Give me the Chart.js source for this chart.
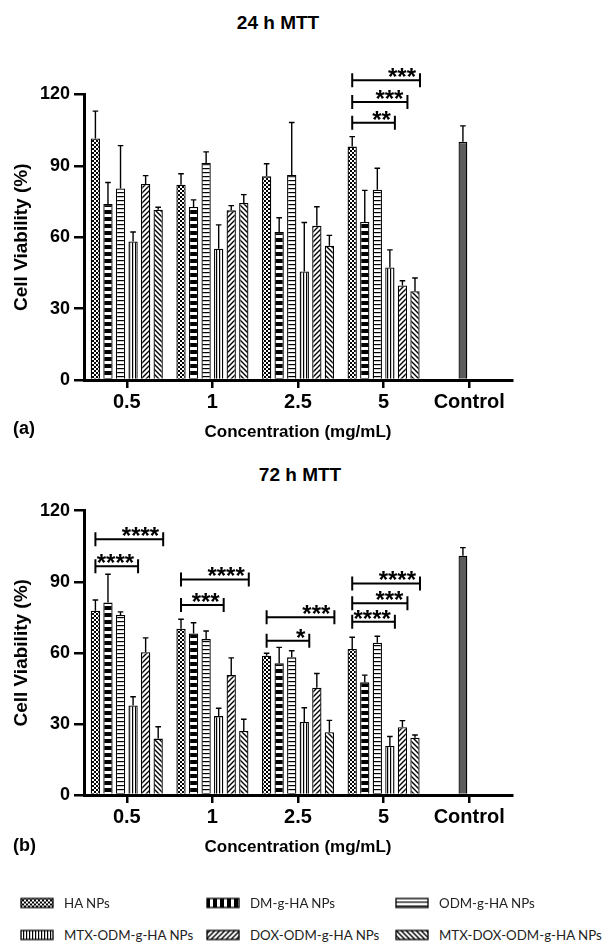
<!DOCTYPE html>
<html>
<head>
<meta charset="utf-8">
<script src="https://cdn.jsdelivr.net/npm/chart.js@4.4.0/dist/chart.umd.min.js"></script>
<style>
  body { margin: 0; background: #fff; width: 610px; height: 944px; position: relative; overflow: hidden;
         font-family: 'Liberation Sans', Arial, sans-serif; }
  .title { position: absolute; font-weight: bold; font-size: 19px; transform: translate(-50%, -50%); white-space: nowrap; }
  .panel { position: absolute; left: 13px; font-weight: bold; font-size: 18px; transform: translateY(-50%); }
  .box { position: absolute; left: 0; width: 610px; }
  .leg { position: absolute; font-family: Lato, sans-serif; font-size: 13.3px; color: #222; transform: translateY(-50%); white-space: nowrap; }
  .sw { position: absolute; transform: translateY(-50%); }
</style>
</head>
<body>
<div class="title" style="left:278px; top:23px">24 h MTT</div>
<div class="box" style="top:0; height:445px"><canvas id="c24"></canvas></div>
<div class="panel" style="top:428px">(a)</div>
<div class="title" style="left:300px; top:475px">72 h MTT</div>
<div class="box" style="top:445px; height:415px"><canvas id="c72"></canvas></div>
<div class="panel" style="top:845px">(b)</div>
<div id="legend"></div>

<script>
const categories = ['0.5', '1', '2.5', '5', 'Control'];
const seriesNames = ['HA NPs', 'DM-g-HA NPs', 'ODM-g-HA NPs', 'MTX-ODM-g-HA NPs', 'DOX-ODM-g-HA NPs', 'MTX-DOX-ODM-g-HA NPs'];

// 24 h MTT (media y error superior)
const ha24 = [101.5, 82.1, 85.6, 98.1];
const dm24 = [74, 72.7, 62.2, 66.4];
const odm24 = [80.5, 91.2, 86.2, 80];
const mtx24 = [58.2, 55.2, 45.6, 47.3];
const dox24 = [82.4, 71.3, 64.8, 39.7];
const mtxdox24 = [71.6, 74.4, 56.4, 37.3];
const ha24Err = [11.5, 4.6, 5.3, 4.2];
const dm24Err = [9, 3, 6, 13.3];
const odm24Err = [18, 4.7, 22, 9];
const mtx24Err = [4, 10, 20.6, 7.4];
const dox24Err = [3.5, 2, 8, 2];
const mtxdox24Err = [1, 3.5, 4.4, 5.6];
const control24 = 100.1;
const control24Err = 6.7;

// 72 h MTT
const ha72 = [77.8, 70.2, 58.8, 61.6];
const dm72 = [81.2, 68.2, 55.6, 47.6];
const odm72 = [76, 65.8, 58.1, 64.3];
const mtx72 = [37.8, 33.3, 30.8, 20.7];
const dox72 = [60.3, 50.6, 45.3, 28.6];
const mtxdox72 = [23.8, 27, 26.5, 24.2];
const ha72Err = [4.5, 4, 1, 5];
const dm72Err = [12, 4.5, 6.7, 3];
const odm72Err = [1.3, 3.4, 2.8, 2.7];
const mtx72Err = [3.7, 3.3, 6, 4];
const dox72Err = [6, 7.3, 6, 2.8];
const mtxdox72Err = [5, 5, 5, 1.1];
const control72 = 101;
const control72Err = 3.4;

// significancia: [grupo, serie comparada, altura, texto]
const sig24 = [[3, 3, 108.1, '**'], [3, 4, 116.9, '***'], [3, 5, 126, '***']];
const sig72 = [
  [0, 3, 96.6, '****'], [0, 5, 107.9, '****'],
  [1, 3, 80.2, '***'], [1, 5, 91, '****'],
  [2, 3, 65.1, '*'], [2, 5, 75, '***'],
  [3, 3, 73.1, '****'], [3, 4, 80.9, '***'], [3, 5, 89.3, '****']
];

const yTicks = [0, 30, 60, 90, 120];
const FONT = "'Liberation Sans', Arial, sans-serif";

// Patrones de relleno
function makePattern(kind) {
  const c = document.createElement('canvas');
  const ctx = c.getContext('2d');
  let w = 4, h = 4;
  if (kind === 'check') { w = 4; h = 4; }
  if (kind === 'bands') { w = 2; h = 7; }
  if (kind === 'vbands') { w = 7; h = 2; }
  if (kind === 'hlines') { w = 2; h = 4; }
  if (kind === 'vlines') { w = 3; h = 2; }
  if (kind === 'diagR' || kind === 'diagL') { w = 5; h = 5; }
  c.width = w; c.height = h;
  ctx.fillStyle = '#fff';
  ctx.fillRect(0, 0, w, h);
  ctx.fillStyle = '#000';
  ctx.strokeStyle = '#000';
  if (kind === 'check') {
    ctx.fillRect(0, 0, 2, 2);
    ctx.fillRect(2, 2, 2, 2);
  } else if (kind === 'bands') {
    ctx.fillRect(0, 0, w, 4);
  } else if (kind === 'vbands') {
    ctx.fillRect(0, 0, 4, h);
  } else if (kind === 'hlines') {
    ctx.fillRect(0, 0, w, 1.2);
  } else if (kind === 'vlines') {
    ctx.fillRect(0, 0, 1.2, h);
  } else {
    ctx.lineWidth = 1.4;
    ctx.beginPath();
    if (kind === 'diagR') {
      ctx.moveTo(-1, h + 1); ctx.lineTo(w + 1, -1);
      ctx.moveTo(-1, 1); ctx.lineTo(1, -1);
      ctx.moveTo(w - 1, h + 1); ctx.lineTo(w + 1, h - 1);
    } else {
      ctx.moveTo(-1, -1); ctx.lineTo(w + 1, h + 1);
      ctx.moveTo(w - 1, -1); ctx.lineTo(w + 1, 1);
      ctx.moveTo(-1, h - 1); ctx.lineTo(1, h + 1);
    }
    ctx.stroke();
  }
  return document.createElement('canvas').getContext('2d').createPattern(c, 'repeat');
}

const barKinds = ['check', 'bands', 'hlines', 'vlines', 'diagR', 'diagL'];
const legendKinds = ['check', 'vbands', 'hlines', 'vlines', 'diagR', 'diagL'];
const barPatterns = barKinds.map(makePattern);

function makeChart(id, values, errs, ctrl, ctrlErr, sig, padTop, xHeight) {
  const datasets = seriesNames.map((name, i) => ({
    label: name,
    data: values[i].concat([null]),
    backgroundColor: barPatterns[i],
    borderColor: '#000',
    borderWidth: 1.3,
    stack: 's' + i,
    categoryPercentage: 0.88,
    barPercentage: 0.74
  }));
  // Control comparte hueco con la tercera serie para quedar un poco a la izquierda
  datasets.push({
    label: 'Control',
    data: [null, null, null, null, ctrl],
    backgroundColor: '#5c5c5c',
    borderColor: '#000',
    borderWidth: 1.3,
    stack: 's2',
    categoryPercentage: 0.88,
    barPercentage: 0.7
  });
  const allErrs = errs.map(e => e.concat([0]));
  allErrs.push([0, 0, 0, 0, ctrlErr]);

  const marks = {
    id: 'marks' + id,
    afterDatasetsDraw(chart) {
      const ctx = chart.ctx;
      const y = chart.scales.y;
      ctx.save();
      ctx.strokeStyle = '#000';
      ctx.fillStyle = '#000';
      ctx.lineWidth = 1.4;
      chart.data.datasets.forEach((ds, i) => {
        const meta = chart.getDatasetMeta(i);
        meta.data.forEach((bar, j) => {
          const v = ds.data[j];
          if (v == null) return;
          const yt = y.getPixelForValue(v + allErrs[i][j]);
          ctx.beginPath();
          ctx.moveTo(bar.x, bar.y);
          ctx.lineTo(bar.x, yt);
          ctx.moveTo(bar.x - 2.8, yt);
          ctx.lineTo(bar.x + 2.8, yt);
          ctx.stroke();
        });
      });
      ctx.lineWidth = 2;
      ctx.font = 'bold 24px ' + FONT;
      ctx.textAlign = 'right';
      ctx.textBaseline = 'alphabetic';
      sig.forEach(([g, t, val, txt]) => {
        const x0 = chart.getDatasetMeta(0).data[g].x;
        const x1 = chart.getDatasetMeta(t).data[g].x + 5;
        const yy = y.getPixelForValue(val);
        ctx.beginPath();
        ctx.moveTo(x0, yy); ctx.lineTo(x1, yy);
        ctx.moveTo(x0, yy - 7); ctx.lineTo(x0, yy + 7);
        ctx.moveTo(x1, yy - 7); ctx.lineTo(x1, yy + 7);
        ctx.stroke();
        ctx.fillText(txt, x1 - 4, yy + 5);
      });
      ctx.restore();
    }
  };

  return new Chart(document.getElementById(id), {
    type: 'bar',
    data: { labels: categories, datasets: datasets },
    options: {
      responsive: true,
      maintainAspectRatio: false,
      animation: false,
      layout: { padding: { top: padTop, right: 98, left: 0, bottom: 0 } },
      plugins: { legend: { display: false }, tooltip: { enabled: false } },
      scales: {
        x: {
          grid: { drawOnChartArea: false, drawTicks: true, tickLength: 8, offset: false, color: '#000', lineWidth: 2.5 },
          border: { color: '#000', width: 3 },
          ticks: { color: '#000', font: { family: FONT, size: 20, weight: 'bold' }, padding: 2, maxRotation: 0, autoSkip: false },
          title: { display: true, text: 'Concentration (mg/mL)', color: '#000',
                   font: { family: FONT, size: 17, weight: 'bold' }, padding: { top: 0, bottom: 2 } },
          afterFit: s => { s.height = xHeight; }
        },
        y: {
          stacked: false,
          min: 0,
          max: 120,
          afterBuildTicks: s => { s.ticks = yTicks.map(v => ({ value: v })); },
          grid: { drawOnChartArea: false, drawTicks: true, tickLength: 10, color: '#000', lineWidth: 2.5 },
          border: { color: '#000', width: 3 },
          ticks: { color: '#000', font: { family: FONT, size: 18, weight: 'bold' }, padding: 4 },
          title: { display: true, text: 'Cell Viability (%)', color: '#000',
                   font: { family: FONT, size: 19, weight: 'bold' }, padding: { top: 10, bottom: 0 } },
          afterFit: s => { s.width = 84; }
        }
      }
    },
    plugins: [marks]
  });
}

makeChart('c24',
  [ha24, dm24, odm24, mtx24, dox24, mtxdox24],
  [ha24Err, dm24Err, odm24Err, mtx24Err, dox24Err, mtxdox24Err],
  control24, control24Err, sig24, 94.5, 65);

makeChart('c72',
  [ha72, dm72, odm72, mtx72, dox72, mtxdox72],
  [ha72Err, dm72Err, odm72Err, mtx72Err, dox72Err, mtxdox72Err],
  control72, control72Err, sig72, 65.7, 65);

// Leyenda común
const legend = document.getElementById('legend');
const legCols = [20, 206, 395];
const legRows = [903, 935];
seriesNames.forEach((name, i) => {
  const col = legCols[i % 3];
  const row = legRows[Math.floor(i / 3)];
  const sw = document.createElement('canvas');
  sw.width = 34; sw.height = 11;
  sw.className = 'sw';
  sw.style.left = col + 'px';
  sw.style.top = row + 'px';
  const sctx = sw.getContext('2d');
  sctx.fillStyle = makePattern(legendKinds[i]);
  sctx.fillRect(1, 1, 32, 9);
  sctx.strokeStyle = '#000';
  sctx.lineWidth = 1.3;
  sctx.strokeRect(1, 1, 32, 9);
  legend.appendChild(sw);

  const text = document.createElement('span');
  text.className = 'leg';
  text.textContent = name;
  text.style.left = (col + 44) + 'px';
  text.style.top = row + 'px';
  legend.appendChild(text);
});
</script>
</body>
</html>
